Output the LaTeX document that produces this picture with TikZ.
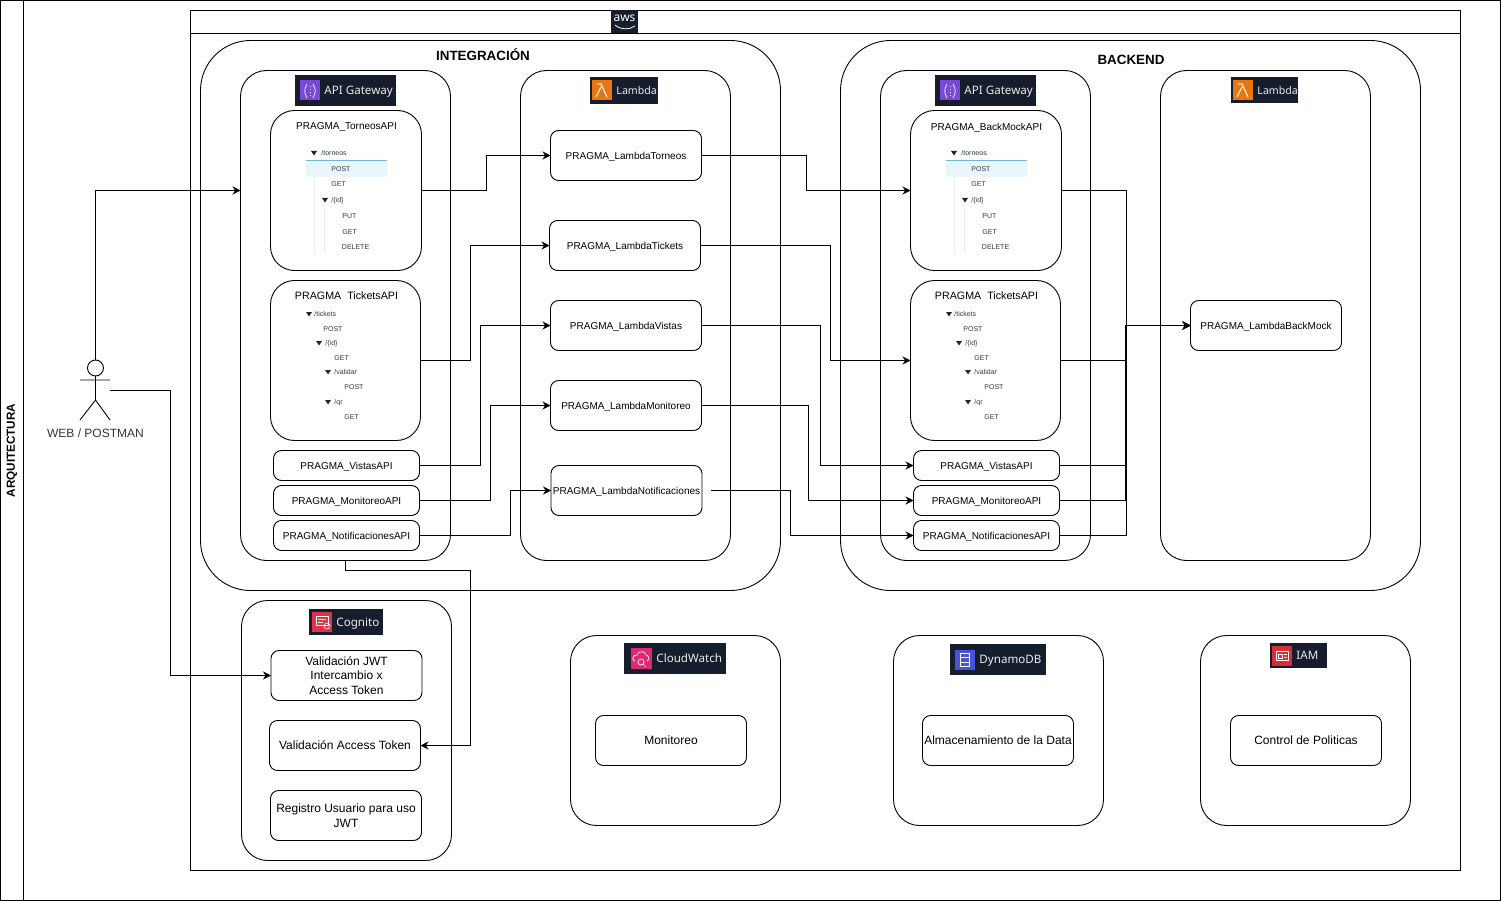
\documentclass[tikz,border=0pt]{standalone}
\usepackage{fontspec}
\setmainfont{Liberation Sans}
\newfontfamily\badgefont{Noto Sans}
\usetikzlibrary{positioning, calc, arrows.meta}
\definecolor{badgeDark}{RGB}{22,29,45}
\definecolor{apiPurple}{RGB}{122,72,214}
\definecolor{lambdaOrange}{RGB}{232,118,20}
\definecolor{cognitoRed}{RGB}{221,52,70}
\definecolor{watchPink}{RGB}{222,42,112}
\definecolor{dynamoBlue}{RGB}{72,84,214}
\definecolor{iamRed}{RGB}{216,44,56}
\definecolor{postBand}{RGB}{233,246,252}
\definecolor{postLine}{RGB}{120,180,215}
\definecolor{treeInk}{RGB}{50,56,70}
\tikzset{
  panel/.style={draw=black, line width=0.9pt, inner sep=0pt, outer sep=0pt, rounded corners=#1},
  panel/.default=26pt,
  bigbox/.style={panel=50pt},
  pbox/.style={panel=8pt, fill=white, minimum width=151pt, minimum height=50pt, text depth=0pt, font=\fontsize{10}{12}\selectfont},
  apibox/.style={panel=8pt, fill=white, minimum width=146pt, minimum height=30pt, text depth=0pt, font=\fontsize{10}{12}\selectfont},
  svcbox/.style={panel=8pt, fill=white, minimum width=151pt, minimum height=50pt, font=\fontsize{12}{14.5}\selectfont, align=center},
  badge/.style={fill=badgeDark, inner sep=0pt, outer sep=0pt},
  badgetxt/.style={text=white!92!black, anchor=west, inner sep=0pt, text depth=0pt},
  conn/.style={draw=black, line width=0.9pt, -{Stealth[length=8pt,width=8pt]}},
  treetxt/.style={font=\fontsize{7}{8}\selectfont, text=treeInk, anchor=west, inner sep=0pt, text depth=0pt},
  apititle/.style={inner sep=0pt, text depth=0pt},
}
\begin{document}
\begin{tikzpicture}[x=1pt, y=-1pt, line width=0.9pt]
  \useasboundingbox (0,0) rectangle (1501,901);
  % outer lanes
  \draw (0.5,0.5) rectangle (1500.5,900);
  \draw (23,0.5) -- (23,900);
  \node[rotate=90, font=\bfseries\fontsize{11.7}{13}\selectfont] (lblArq) at (12,450.5) {ARQUITECTURA};
  \draw (190.5,10.5) rectangle (1460.5,870.5);
  \draw (190.5,33.5) -- (1460.5,33.5);
  \node[badge, minimum width=27pt, minimum height=23pt] (badgeAws) at (624.5,21.5) {};
  \node[text=white, font=\badgefont\fontsize{12}{12}\selectfont, inner sep=0pt] (lblAws) at (624.5,18) {aws};
  \draw[white, line width=0.8pt] (615,25) .. controls (621,30) and (629,30) .. (635,26);

  % big containers
  \node[bigbox, minimum width=580pt, minimum height=550pt] (zoneInt) at (490.5,315.5) {};
  \node[bigbox, minimum width=580pt, minimum height=550pt] (zoneBack) at (1130.5,315.5) {};
  \node[font=\bfseries\fontsize{13.4}{15}\selectfont] (lblInt) at (483,55) {INTEGRACIÓN};
  \node[font=\bfseries\fontsize{13.4}{15}\selectfont] (lblBack) at (1131,60) {BACKEND};

  % service panels
  \foreach \nm/\x/\y/\w/\h in {gwInt/345.5/315.5/210/490, lamInt/625.5/315.5/210/490, gwBack/985.5/315.5/210/490, lamBack/1265.5/315.5/210/490,
      panCognito/346.5/730.5/210/260, panWatch/675.5/730.5/210/190, panDynamo/998.5/730.5/210/190, panIam/1305.5/730.5/210/190}{
    \node[panel, minimum width=\w pt, minimum height=\h pt] (\nm) at (\x,\y) {};
  }

  % API boxes with a resource tree
  \node[panel=24pt, fill=white, minimum width=151pt, minimum height=160pt] (apiTorneos) at (346,190.5) {};
  \node[panel=24pt, fill=white, minimum width=150pt, minimum height=160pt] (apiTickets) at (345.5,360.5) {};
  \node[panel=24pt, fill=white, minimum width=151pt, minimum height=160pt] (backTorneos) at (986,190.5) {};
  \node[panel=24pt, fill=white, minimum width=150pt, minimum height=160pt] (backTickets) at (985.5,360.5) {};
  \node[apititle, font=\fontsize{10}{12}\selectfont] (lblTorneos) at (346.5,126.5) {PRAGMA\_TorneosAPI};
  \node[apititle, font=\fontsize{10.7}{13}\selectfont] (lblTickets) at (346.5,295.5) {PRAGMA\ \ TicketsAPI};
  \node[apititle, font=\fontsize{10}{12}\selectfont] (lblBackMock) at (986.5,126.5) {PRAGMA\_BackMockAPI};
  \node[apititle, font=\fontsize{10.7}{13}\selectfont] (lblTicketsB) at (986.5,295.5) {PRAGMA\ \ TicketsAPI};

  \foreach \dx in {0,640}{
    \fill[postBand] (306+\dx,161) rectangle (387+\dx,177);
    \draw[postLine, line width=0.5pt] (306+\dx,160.5) -- (387+\dx,160.5);
    \draw[black!8, line width=0.5pt] (314+\dx,177) -- (314+\dx,253);
    \draw[black!8, line width=0.5pt] (324+\dx,207) -- (324+\dx,253);
    \foreach \x/\y/\lbl in {321/153/{/torneos}, 331/169/POST, 331/184/GET, 331/200/{/\{id\}}, 342/216/PUT, 342/232/GET, 341.5/247/DELETE,
        314/314/{/tickets}, 323/329/POST, 325/343/{/\{id\}}, 334/358/GET, 334/372/{/validar}, 344/387/POST, 334/402/{/qr}, 344/417/GET}{
      \node[treetxt] at (\x+\dx,\y) {\lbl};
    }
    \foreach \x/\y in {314/153, 325/200, 309/314, 319/343, 328/372, 328/402}{
      \fill[black!85] (\x-3+\dx,\y-2) -- (\x+3+\dx,\y-2) -- (\x+\dx,\y+2.5) -- cycle;
    }
  }

  % small API boxes
  \foreach \nm/\x/\y/\lbl in {apiVistas/346.5/465.5/PRAGMA\_VistasAPI, apiMonitoreo/346.5/500.5/PRAGMA\_MonitoreoAPI, apiNotif/346.5/535.5/PRAGMA\_NotificacionesAPI,
      backVistas/986.5/465.5/PRAGMA\_VistasAPI, backMonitoreo/986.5/500.5/PRAGMA\_MonitoreoAPI, backNotif/986.5/535.5/PRAGMA\_NotificacionesAPI}{
    \node[apibox] (\nm) at (\x,\y) {\lbl};
  }

  % lambdas
  \foreach \nm/\x/\y/\lbl in {lamTorneos/626/155.5/PRAGMA\_LambdaTorneos, lamTickets/625/245.5/PRAGMA\_LambdaTickets, lamVistas/626/325.5/PRAGMA\_LambdaVistas,
      lamMonitoreo/626/405.5/PRAGMA\_LambdaMonitoreo, lamNotif/626.5/490.5/PRAGMA\_LambdaNotificaciones, lamBackMock/1266/325.5/PRAGMA\_LambdaBackMock}{
    \node[pbox] (\nm) at (\x,\y) {\lbl};
  }

  % other services
  \node[svcbox] (boxJwt) at (346.5,675.5) {Validación JWT\\Intercambio x\\Access Token};
  \node[svcbox] (boxAccess) at (345,745.5) {Validación Access Token};
  \node[svcbox] (boxRegistro) at (346,815.5) {Registro Usuario para uso\\JWT};
  \node[svcbox] (boxMonitoreo) at (671,740.5) {Monitoreo};
  \node[svcbox] (boxData) at (998,740.5) {Almacenamiento de la Data};
  \node[svcbox] (boxPoliticas) at (1306,740.5) {Control de Politicas};

  % badges
  \foreach \nm/\x/\y/\w/\h/\col/\pad/\ico/\fs/\lbl in {gwInt/295/75/101/31/apiPurple/5/20/11.6/API Gateway, gwBack/935/75/101/31/apiPurple/5/20/11.6/API Gateway,
      lamInt/590/77/68/27/lambdaOrange/2/20/10.6/Lambda, lamBack/1231/77/67/26/lambdaOrange/2/20/10.6/Lambda,
      cog/309/609/74/26/cognitoRed/3/20/11.6/Cognito, watch/624/643/102/31/watchPink/7/21/11.6/CloudWatch,
      dyn/950/644/96/31/dynamoBlue/5/20/11.6/DynamoDB, iam/1270/643/57/25/iamRed/2/20/11.6/IAM}{
    \fill[badgeDark] (\x,\y) rectangle ++(\w,\h);
    \fill[\col] (\x+\pad,\y+\h/2-\ico/2) rectangle ++(\ico,\ico);
    \node[badgetxt, font=\badgefont\fontsize{\fs}{14}\selectfont] (badge\nm) at (\x+\pad+\ico+4,\y+\h/2) {\lbl};
  }
  % badge glyphs
  \foreach \x in {310,950}{
    \draw[white, line width=0.7pt] (\x-3,84) .. controls (\x-6,90) and (\x-6,92) .. (\x-3,98);
    \draw[white, line width=0.7pt] (\x+3,84) .. controls (\x+6,90) and (\x+6,92) .. (\x+3,98);
    \draw[white, line width=0.9pt, dotted] (\x,86) -- (\x,96);
  }
  \foreach \x in {602,1243}{
    \draw[white, line width=1pt] (\x-5,84) -- (\x-1,84) -- (\x+5,97) (\x-1,87) -- (\x-6,97);
  }
  \draw[white, line width=0.6pt] (316,616) rectangle (328,625) (318,619) -- (326,619) (318,622) -- (323,622);
  \draw[white, line width=0.6pt] (327,626) circle (3);
  \draw[white, line width=0.7pt] (635,661) .. controls (631,661) and (633,654) .. (637,655) .. controls (639,650) and (645,651) .. (646,655) .. controls (649,655) and (650,660) .. (647,661);
  \draw[white, line width=0.7pt] (641,662) circle (3) (643,664) -- (646,667);
  \draw[white, line width=0.7pt] (960,653) rectangle (969,666);
  \draw[white, line width=0.7pt] (960,657) -- (969,657) (960,662) -- (969,662);
  \draw[white, line width=0.7pt] (1276,651) rectangle (1288,660) (1278,654) rectangle (1282,658) (1284,654) -- (1287,654) (1284,657) -- (1287,657);

  % actor
  \node[draw, circle, minimum size=16pt, inner sep=0pt, outer sep=0pt] (actorHead) at (95.5,368) {};
  \draw (actorHead.south) -- (95.5,400) (80,380) -- (110,380) (80,420) -- (95.5,400) -- (110,420);
  \node[font=\fontsize{12}{14}\selectfont, text=black!80] (lblActor) at (95.5,433.5) {WEB / POSTMAN};
  \coordinate (actorOut) at (110,390.5);
  \coordinate (gwIn) at (240.5,190.5);
  \coordinate (notifOut) at (711,490.5);

  % connectors
  \draw[conn] (actorHead.north) |- (gwIn);
  \draw[conn] (actorOut) -- ++(60.5,0) |- (boxJwt.west);
  \draw[conn] (gwInt.south) |- ++(125,10) |- (boxAccess.east);
  \draw[conn] (apiTorneos.east) -- ++(65,0) |- (lamTorneos.west);
  \draw[conn] (apiTickets.east) -- ++(50,0) |- (lamTickets.west);
  \draw[conn] (apiVistas.east) -- ++(61,0) |- (lamVistas.west);
  \draw[conn] (apiMonitoreo.east) -- ++(71,0) |- (lamMonitoreo.west);
  \draw[conn] (apiNotif.east) -- ++(91,0) |- (lamNotif.west);
  \draw[conn] (lamTorneos.east) -- ++(105,0) |- (backTorneos.west);
  \draw[conn] (lamTickets.east) -- ++(130,0) |- (backTickets.west);
  \draw[conn] (lamVistas.east) -- ++(119,0) |- (backVistas.west);
  \draw[conn] (lamMonitoreo.east) -- ++(107,0) |- (backMonitoreo.west);
  \draw[conn] (notifOut) -- ++(79,0) |- (backNotif.west);
  \draw[conn] (backTorneos.east) -- ++(65,0) |- (lamBackMock.west);
  \draw[conn] (backTickets.east) -- ++(65,0) |- (lamBackMock.west);
  \draw[conn] (backVistas.east) -- ++(66,0) |- (lamBackMock.west);
  \draw[conn] (backMonitoreo.east) -- ++(65.5,0) |- (lamBackMock.west);
  \draw[conn] (backNotif.east) -- ++(67,0) |- (lamBackMock.west);
\end{tikzpicture}
\end{document}
